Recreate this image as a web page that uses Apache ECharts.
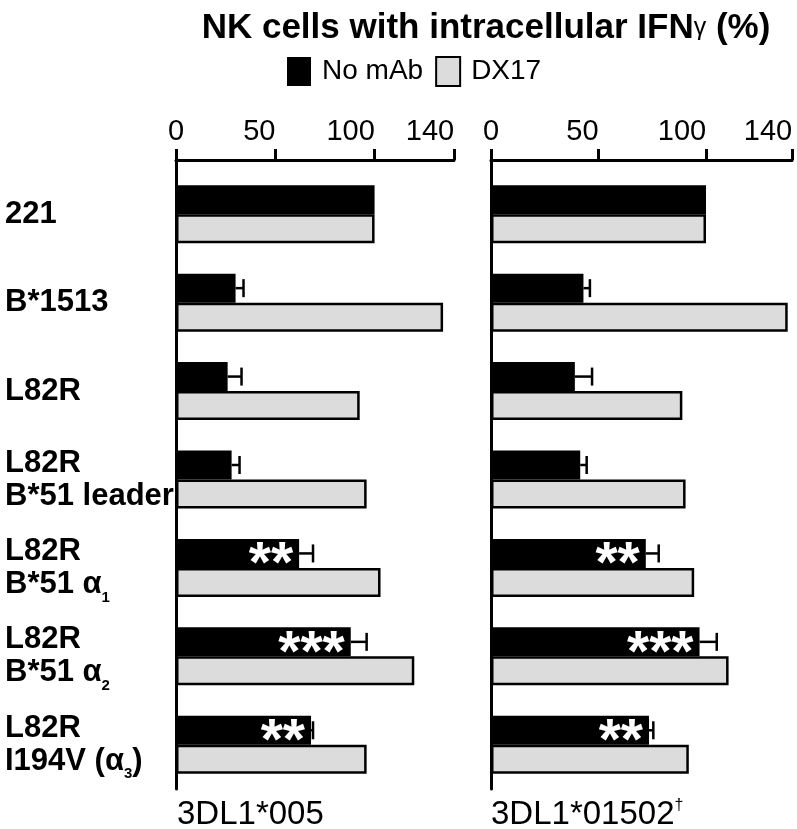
<!DOCTYPE html>
<html>
<head>
<meta charset="utf-8">
<title>NK cells with intracellular IFNγ</title>
<script src="https://cdn.jsdelivr.net/npm/echarts@6/dist/echarts.min.js"></script>
<style>
  html, body { margin: 0; padding: 0; background: #fff; }
  #chart { width: 797px; height: 829px; }
</style>
</head>
<body>
<div id="chart"></div>
<script>
// rows, top to bottom
const categories = ['221', 'B*1513', 'L82R', 'L82R\nB*51 leader', 'L82R\nB*51 α1', 'L82R\nB*51 α2', 'L82R\nI194V (α3)'];
const xTicks = [0, 50, 100, 140];

// 3DL1*005 panel
const leftNoMab = [100, 30, 26, 28, 62, 88, 68];
const leftNoMabErr = [null, 34, 33, 32, 69, 96, 69];
const leftDx17 = [100, 134.5, 92.5, 96, 103, 120, 96];
const leftStars = ['', '', '', '', '**', '***', '**'];

// 3DL1*01502 panel
const rightNoMab = [100, 43, 39, 41.5, 72, 97, 73.5];
const rightNoMabErr = [null, 46, 47, 44.5, 78, 105, 75.5];
const rightDx17 = [100, 138, 89, 90.5, 94.5, 110.5, 92];
const rightStars = ['', '', '', '', '**', '***', '**'];

const FONT = 'Liberation Sans';
const BAR_W = 29;

const chart = echarts.init(document.getElementById('chart'));

function errData(bars, errs) {
  const out = [];
  errs.forEach((e, i) => {
    if (e != null) out.push([e, i, bars[i]]);
  });
  return out;
}

function errorBar(params, api) {
  const cat = api.value(1);
  const end = api.coord([api.value(0), cat]);
  const start = api.coord([api.value(2), cat]);
  const y = end[1] - BAR_W / 2;
  const style = { stroke: '#000', lineWidth: 2.5 };
  return {
    type: 'group',
    children: [
      { type: 'line', shape: { x1: start[0], y1: y, x2: end[0], y2: y }, style: style },
      { type: 'line', shape: { x1: end[0], y1: y - 9, x2: end[0], y2: y + 9 }, style: style }
    ]
  };
}

// 0 sits centred on its tick, the other labels end at their tick
function tickLabel(v) {
  if (v === 0) return '0';
  const s = String(v);
  return s + '{s' + s.length + '|}';
}

function mainX(gridIndex) {
  return {
    type: 'value', gridIndex: gridIndex, position: 'top', offset: 10,
    min: 0, max: 140,
    axisLine: { show: true, lineStyle: { color: '#000', width: 3 } },
    axisTick: { show: true, length: 11, customValues: xTicks, lineStyle: { color: '#000', width: 3 } },
    axisLabel: {
      customValues: xTicks, align: 'center', margin: 14,
      fontFamily: FONT, fontSize: 29, color: '#000',
      formatter: tickLabel,
      rich: { s2: { width: 32 }, s3: { width: 48 } }
    },
    splitLine: { show: false }
  };
}

// short tick at 0 that joins the x axis line to the y axis line
function fillerX(gridIndex) {
  return {
    type: 'value', gridIndex: gridIndex, position: 'top', offset: 0,
    min: 0, max: 140,
    axisLine: { show: false },
    axisTick: { show: true, length: 10, customValues: [0], lineStyle: { color: '#000', width: 3 } },
    axisLabel: { show: false },
    splitLine: { show: false }
  };
}

function catY(gridIndex, showLabels) {
  return {
    type: 'category', gridIndex: gridIndex, inverse: true, data: categories,
    axisLine: { show: true, onZero: false, lineStyle: { color: '#000', width: 3 } },
    axisTick: { show: false },
    axisLabel: {
      show: showLabels, align: 'left', margin: 171,
      fontFamily: FONT, fontSize: 31, fontWeight: 'bold', color: '#000', lineHeight: 33,
      formatter: v => v.replace(/α(\d)/g, 'α{sub|$1}'),
      rich: {
        sub: { fontFamily: FONT, fontSize: 15, fontWeight: 'bold', color: '#000', lineHeight: 15, verticalAlign: 'bottom', padding: [0, 0, -4, 0] }
      }
    }
  };
}

function barSeries(name, data, xi, yi, color, stars) {
  const s = {
    name: name, type: 'bar', xAxisIndex: xi, yAxisIndex: yi,
    data: data, barWidth: BAR_W, barGap: '0%',
    itemStyle: color === 'black'
      ? { color: '#000' }
      : { color: '#dcdcdc', borderColor: '#000', borderWidth: 2.5 },
    emphasis: { disabled: true }
  };
  if (stars) {
    s.label = {
      show: true, position: 'insideRight', distance: 6, offset: [0, 13],
      color: '#fff', fontFamily: FONT, fontWeight: 'bold', fontSize: 57,
      formatter: p => stars[p.dataIndex]
    };
  }
  return s;
}

const option = {
  backgroundColor: '#fff',
  animation: false,
  title: [
    {
      text: 'NK cells with intracellular IFN{g|γ} (%)',
      left: 481, top: 6, textAlign: 'center',
      textStyle: {
        fontFamily: FONT, fontSize: 35, fontWeight: 'bold', color: '#000',
        rich: { g: { fontFamily: FONT, fontSize: 25, fontWeight: 'normal', color: '#000' } }
      }
    },
    {
      text: '3DL1*005', left: 172, top: 793,
      textStyle: { fontFamily: FONT, fontSize: 33, fontWeight: 'normal', color: '#000' }
    },
    {
      text: '3DL1*01502{sup|†}', left: 486, top: 793,
      textStyle: {
        fontFamily: FONT, fontSize: 33, fontWeight: 'normal', color: '#000',
        rich: { sup: { fontFamily: FONT, fontSize: 16, color: '#000', verticalAlign: 'top' } }
      }
    }
  ],
  legend: {
    data: ['No mAb', 'DX17'],
    left: 282, top: 51,
    itemWidth: 24, itemHeight: 29, itemGap: 12,
    icon: 'rect',
    textStyle: { fontFamily: FONT, fontSize: 28, color: '#000', padding: [0, 0, 0, 6] }
  },
  grid: [
    { left: 176, top: 170, width: 278, height: 619, outerBoundsMode: 'none', containLabel: false },
    { left: 491, top: 170, width: 301, height: 619, outerBoundsMode: 'none', containLabel: false }
  ],
  xAxis: [mainX(0), fillerX(0), mainX(1), fillerX(1)],
  yAxis: [catY(0, true), catY(1, false)],
  series: [
    barSeries('No mAb', leftNoMab, 0, 0, 'black', leftStars),
    barSeries('DX17', leftDx17, 0, 0, 'gray'),
    {
      type: 'custom', xAxisIndex: 0, yAxisIndex: 0,
      data: errData(leftNoMab, leftNoMabErr),
      encode: { x: [0, 2], y: 1 },
      renderItem: errorBar, silent: true
    },
    barSeries('No mAb', rightNoMab, 2, 1, 'black', rightStars),
    barSeries('DX17', rightDx17, 2, 1, 'gray'),
    {
      type: 'custom', xAxisIndex: 2, yAxisIndex: 1,
      data: errData(rightNoMab, rightNoMabErr),
      encode: { x: [0, 2], y: 1 },
      renderItem: errorBar, silent: true
    }
  ]
};

chart.setOption(option);
</script>
</body>
</html>
